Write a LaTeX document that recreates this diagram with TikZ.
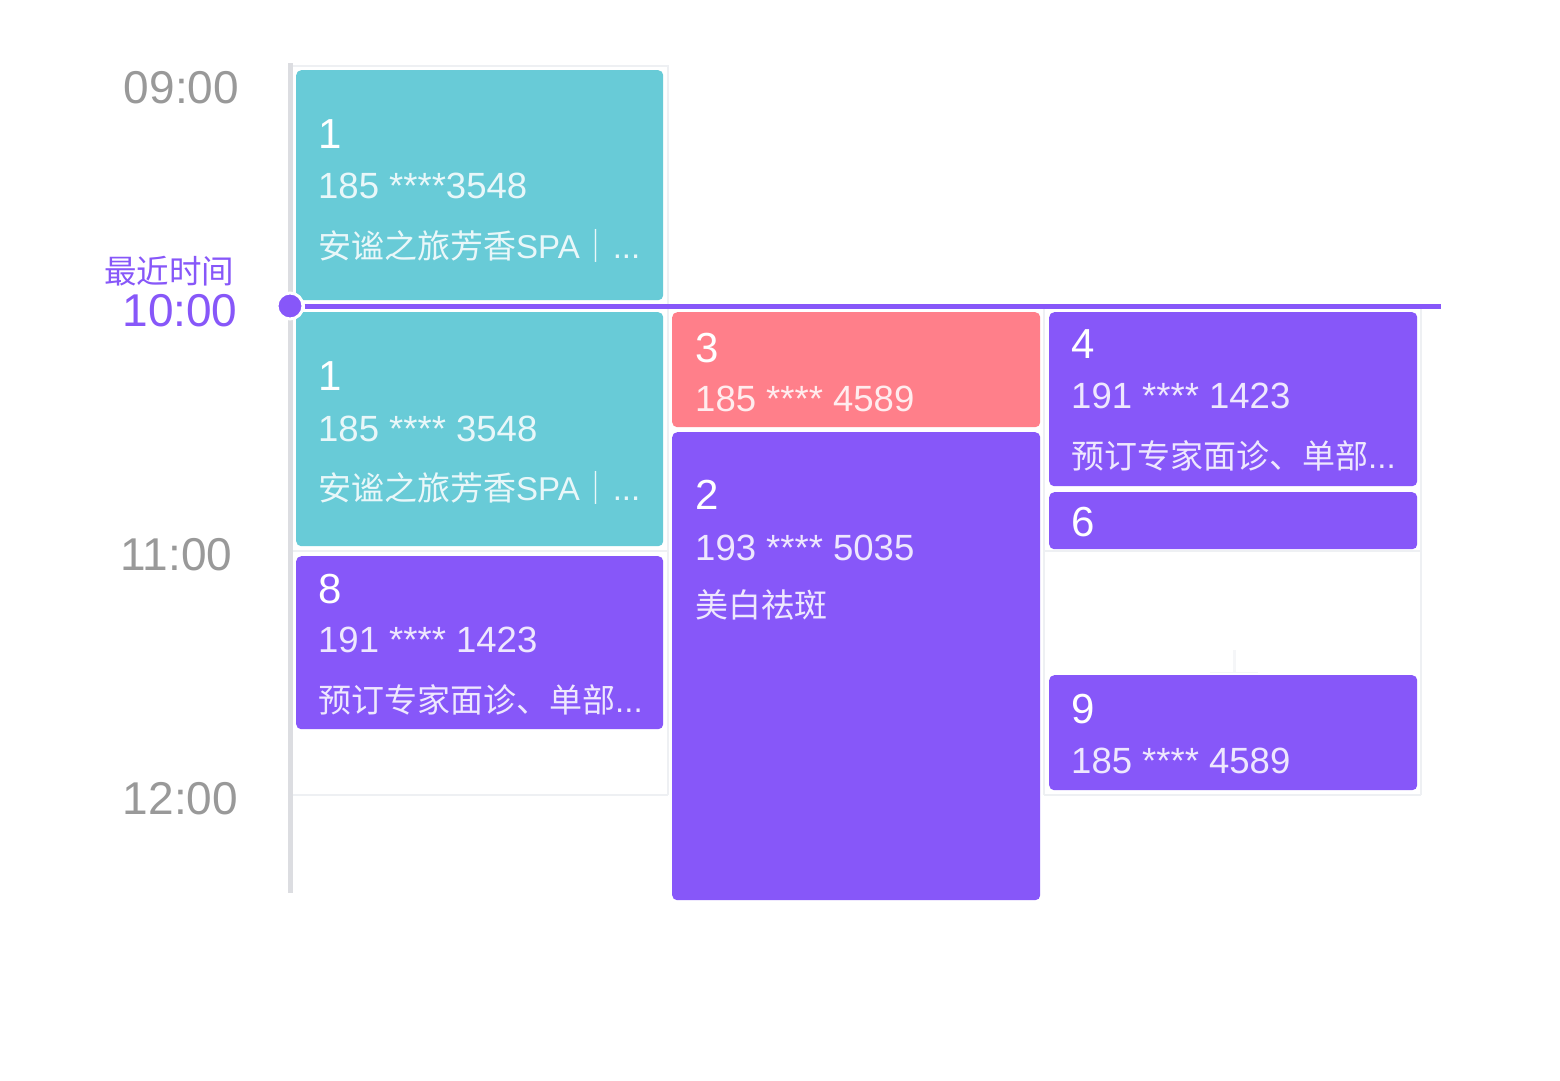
\documentclass[tikz,border=0pt]{standalone}
\usepackage{fontspec}
\setmainfont{Liberation Sans}
\newfontfamily\cjk{Noto Sans CJK SC}
\definecolor{cyanc}{HTML}{68CBD7}
\definecolor{purplec}{HTML}{8757F9}
\definecolor{redc}{HTML}{FF7F8A}
\definecolor{gridc}{HTML}{EEF0F3}
\definecolor{axisc}{HTML}{DCDDE1}
\definecolor{timec}{HTML}{999999}
\begin{document}
\begin{tikzpicture}[x=1pt,y=-1pt,
  evbox/.style={rounded corners=5pt,inner sep=0pt,anchor=north west,draw=none},
  numtxt/.style={anchor=base west,inner sep=0pt,text=white,font=\fontsize{42}{42}\selectfont},
  phtxt/.style={anchor=base west,inner sep=0pt,text=white,text opacity=0.86,font=\fontsize{36.5}{36.5}\selectfont},
  dstxt/.style={anchor=base west,inner sep=0pt,text=white,text opacity=0.86,font=\fontsize{33}{33}\selectfont},
  timetxt/.style={anchor=base,inner sep=0pt,text=timec,font=\fontsize{46}{46}\selectfont},
  gridline/.style={draw=gridc,line width=2pt}]
\path[use as bounding box,fill=white] (0,0) rectangle (1560,1080);

% grid
\coordinate (g1) at (290,66);  \coordinate (g2) at (668,66);
\coordinate (g3) at (668,795); \coordinate (g4) at (1044,306);
\coordinate (g5) at (1044,795);\coordinate (g6) at (1421,306);
\coordinate (g7) at (1421,795);
\coordinate (h1a) at (290,551); \coordinate (h1b) at (668,551);
\coordinate (h1c) at (1044,551);\coordinate (h1d) at (1421,551);
\coordinate (h2a) at (290,795); \coordinate (h2b) at (668,795);
\coordinate (h2c) at (1044,795);\coordinate (h2d) at (1421,795);
\draw[gridline] (g1) -- (g2) -- (g3);
\draw[gridline] (g4) -- (g5);
\draw[gridline] (g6) -- (g7);
\draw[gridline] (h1a) -- (h1b);
\draw[gridline] (h1c) -- (h1d);
\draw[gridline] (h2a) -- (h2b);
\draw[gridline] (h2c) -- (h2d);
\coordinate (f1) at (1234,650); \coordinate (f2) at (1234,672);
\coordinate (f3) at (1210,672); \coordinate (f4) at (1258,672);
\draw[draw=gridc!60,line width=3pt] (f1) -- (f2);
\draw[draw=gridc!60,line width=1pt] (f3) -- (f4);

% axis
\coordinate (ax1) at (290,63); \coordinate (ax2) at (290,893);
\draw[draw=axisc,line width=5pt] (ax1) -- (ax2);

% time labels
\node[timetxt] (t9) at (181.5,103) {09:00};
\node[timetxt] (t11) at (176.5,570) {11:00};
\node[timetxt] (t12) at (180.5,814) {12:00};
\node[anchor=base,inner sep=0pt,text=purplec,font=\fontsize{32.5}{32.5}\selectfont\cjk] (lbl) at (169,283) {最近时间};
\node[timetxt,text=purplec] (t10) at (180,326) {10:00};

% boxes
\node[evbox,fill=cyanc,minimum width=367pt,minimum height=230pt] (bA) at (296,70) {};
\node[evbox,fill=cyanc,minimum width=367pt,minimum height=234pt] (bB) at (296,312) {};
\node[evbox,fill=purplec,minimum width=367pt,minimum height=173pt] (b8) at (296,556) {};
\node[evbox,fill=redc,minimum width=368pt,minimum height=115pt] (b3) at (672,312) {};
\node[evbox,fill=purplec,minimum width=368pt,minimum height=468pt] (b2) at (672,432) {};
\node[evbox,fill=purplec,minimum width=368pt,minimum height=174pt] (b4) at (1049,312) {};
\node[evbox,fill=purplec,minimum width=368pt,minimum height=57pt] (b6) at (1049,492) {};
\node[evbox,fill=purplec,minimum width=368pt,minimum height=115pt] (b9) at (1049,675) {};

% box texts
\node[numtxt] (nA) at (318,148) {1};
\node[phtxt] (pA) at (318,198) {185 ****3548};
\node[dstxt] (dA) at (318,258) {{\cjk 安谧之旅芳香}SPA{\cjk ｜}...};

\node[numtxt] (nB) at (318,390) {1};
\node[phtxt] (pB) at (318,441) {185 **** 3548};
\node[dstxt] (dB) at (318,500) {{\cjk 安谧之旅芳香}SPA{\cjk ｜}...};

\node[numtxt] (n8) at (318,603) {8};
\node[phtxt] (p8) at (318,652) {191 **** 1423};
\node[dstxt] (d8) at (318,712) {{\cjk 预订专家面诊、单部}...};

\node[numtxt] (n3) at (695,362) {3};
\node[phtxt] (p3) at (695,411) {185 **** 4589};

\node[numtxt] (n2) at (695,509) {2};
\node[phtxt] (p2) at (695,560) {193 **** 5035};
\node[dstxt] (d2) at (695,617) {{\cjk 美白祛斑}};

\node[numtxt] (n4) at (1071,358) {4};
\node[phtxt] (p4) at (1071,408) {191 **** 1423};
\node[dstxt] (d4) at (1071,468) {{\cjk 预订专家面诊、单部}...};

\node[numtxt] (n6) at (1071,536) {6};

\node[numtxt] (n9) at (1071,723) {9};
\node[phtxt] (p9) at (1071,773) {185 **** 4589};

% current time line
\coordinate (nowend) at (1441,306);
\node[circle,fill=purplec,draw=white,line width=3pt,minimum size=26pt,inner sep=0pt] (now) at (290,306) {};
\draw[draw=purplec,line width=5pt] (now.east) -- (nowend);
\end{tikzpicture}
\end{document}
